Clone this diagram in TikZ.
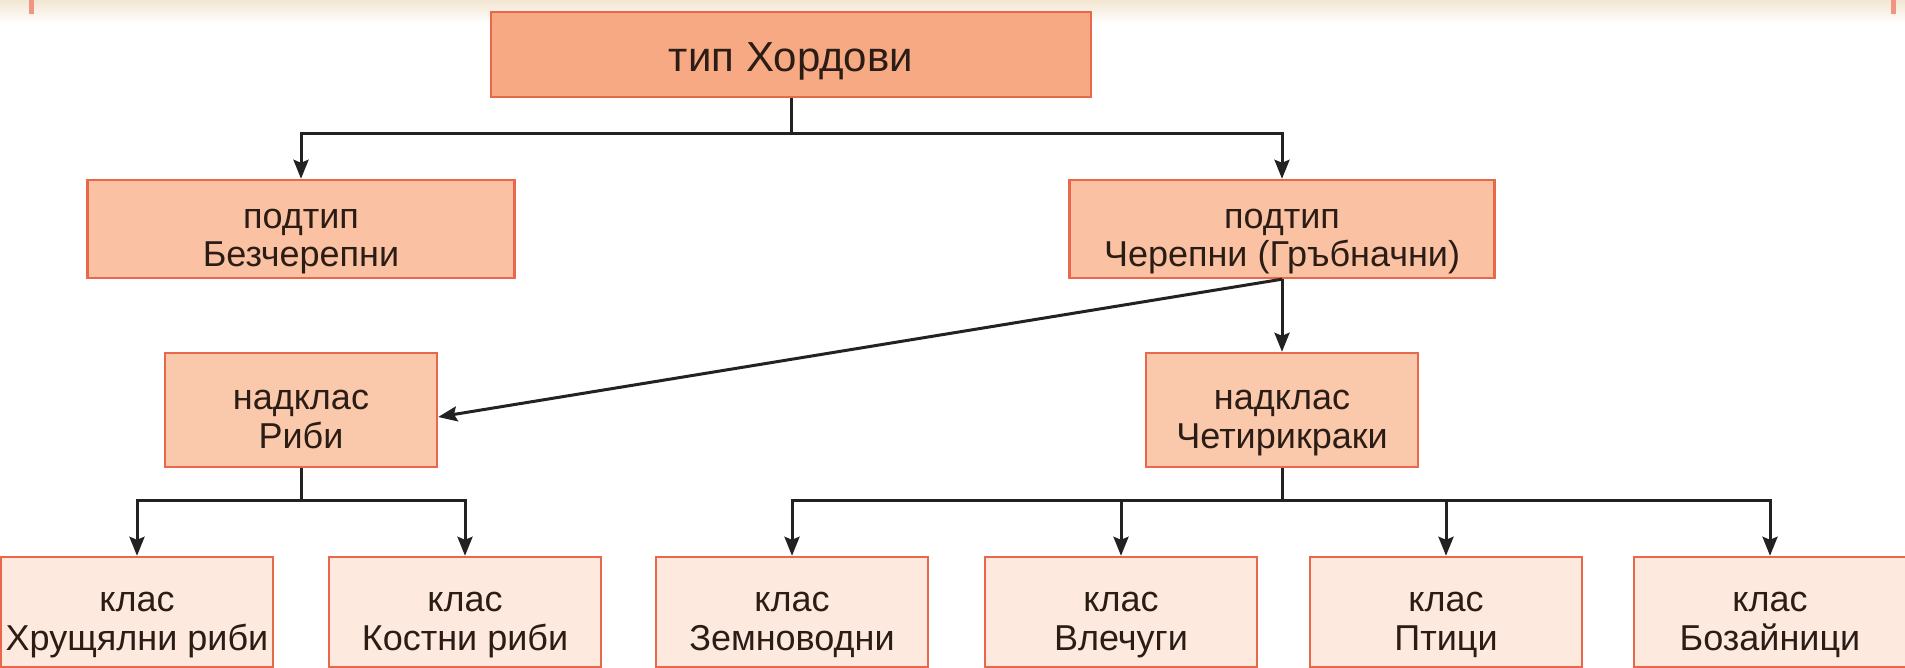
\documentclass[tikz,border=0pt]{standalone}
\usepackage{fontspec}
\setmainfont{Liberation Sans}
\usetikzlibrary{arrows.meta}
\definecolor{bordc}{HTML}{E9674A}
\definecolor{fillA}{HTML}{F6A982}
\definecolor{fillB}{HTML}{FAC2A3}
\definecolor{fillC}{HTML}{FAC8AB}
\definecolor{fillD}{HTML}{FDE9DD}
\definecolor{txtc}{HTML}{2B1D16}
\definecolor{linec}{HTML}{222222}
\definecolor{creamc}{HTML}{F2E6D2}
\newcommand\tlines[2]{\rule{0pt}{47pt}#1\\#2\rule[-10pt]{0pt}{10pt}}
\tikzset{
  box/.style={draw=bordc, line width=2.4pt, text=txtc, align=center, inner sep=0pt,
    font=\fontsize{36}{39}\selectfont},
  topbox/.style={box, fill=fillA, minimum width=600pt, minimum height=85pt,
    font=\fontsize{42}{46}\selectfont},
  subbox/.style={box, fill=fillB, minimum height=98pt},
  superbox/.style={box, fill=fillC, minimum width=272pt, minimum height=114pt},
  classbox/.style={box, fill=fillD, minimum width=272pt, minimum height=110pt},
  arr/.style={draw=linec, line width=3pt, -{Stealth[length=19pt,width=15pt,inset=3pt]}},
  conn/.style={draw=linec, line width=3pt}
}
\begin{document}
\begin{tikzpicture}[x=1pt,y=-1pt]
\useasboundingbox (0,0) rectangle (1905,668);
\fill[white] (0,0) rectangle (1905,668);
% page edge decoration
\shade[top color=creamc, bottom color=white] (0,0) rectangle (1905,24);
\fill[bordc!70] (29,0) rectangle (34,14);
\fill[bordc!70] (1891,0) rectangle (1896,14);

% nodes
\node[topbox] (top) at (791,54.5) {\rule{0pt}{44pt}тип Хордови\rule[-10pt]{0pt}{10pt}};
\node[subbox, minimum width=427pt] (bez) at (301,229) {\tlines{подтип}{Безчерепни}};
\node[subbox, minimum width=425pt] (cher) at (1282,229) {\tlines{подтип}{Черепни (Гръбначни)}};
\node[superbox] (riby) at (301,410) {\tlines{надклас}{Риби}};
\node[superbox] (chet) at (1282,410) {\tlines{надклас}{Четирикраки}};
\node[classbox] (hrush) at (137,612) {\tlines{клас}{Хрущялни риби}};
\node[classbox] (kost) at (465,612) {\tlines{клас}{Костни риби}};
\node[classbox] (zem) at (792,612) {\tlines{клас}{Земноводни}};
\node[classbox] (vlech) at (1121,612) {\tlines{клас}{Влечуги}};
\node[classbox] (ptic) at (1446,612) {\tlines{клас}{Птици}};
\node[classbox] (boz) at (1770,612) {\tlines{клас}{Бозайници}};

% junctions
\coordinate (j1) at (791,134);
\coordinate (j2) at (301,500);
\coordinate (j3) at (1282,500);

% connectors
\draw[conn] (top.south) -- (j1);
\draw[arr] (j1) -| (bez.north);
\draw[arr] (j1) -| (cher.north);
\draw[arr] (cher.south) -- (chet.north);
\draw[arr] (cher.south) -- ([yshift=-7pt]riby.east);
\draw[conn] (riby.south) -- (j2);
\draw[arr] (j2) -| (hrush.north);
\draw[arr] (j2) -| (kost.north);
\draw[conn] (chet.south) -- (j3);
\draw[arr] (j3) -| (zem.north);
\draw[arr] (j3) -| (vlech.north);
\draw[arr] (j3) -| (ptic.north);
\draw[arr] (j3) -| (boz.north);
\end{tikzpicture}
\end{document}
